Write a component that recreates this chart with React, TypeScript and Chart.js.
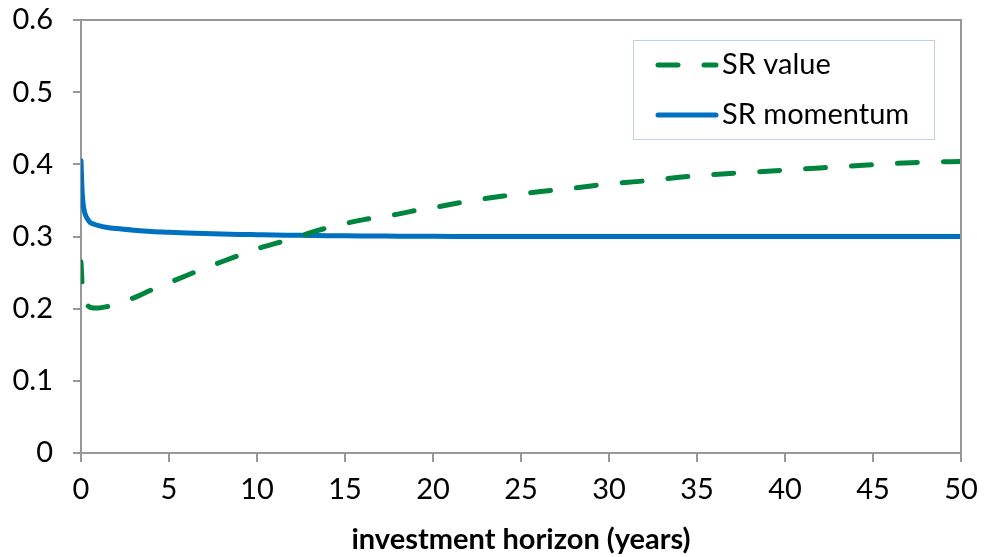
import React, { useEffect, useRef } from "react";
import { Chart, registerables } from "chart.js";

Chart.register(...registerables);

const horizonYears = [0, 0.05, 0.1, 0.2, 0.35, 0.5, 0.75, 1, 1.5, 2, 3, 4, 5, 6, 7, 8, 9, 10, 11, 12, 13, 14, 15, 16, 17, 18, 19, 20, 22, 24, 26, 28, 30, 32, 34, 36, 38, 40, 42, 44, 46, 48, 50];
const srValue = [0.265, 0.24, 0.222, 0.21, 0.205, 0.202, 0.201, 0.201, 0.203, 0.206, 0.215, 0.226, 0.236, 0.246, 0.256, 0.265, 0.274, 0.283, 0.29, 0.297, 0.305, 0.312, 0.318, 0.323, 0.327, 0.331, 0.336, 0.34, 0.349, 0.356, 0.362, 0.367, 0.373, 0.377, 0.382, 0.386, 0.389, 0.392, 0.395, 0.398, 0.401, 0.403, 0.404];
const srMomentum = [0.405, 0.37, 0.35, 0.334, 0.325, 0.32, 0.317, 0.315, 0.3125, 0.311, 0.3088, 0.307, 0.3058, 0.3048, 0.304, 0.3034, 0.3029, 0.3025, 0.3021, 0.3018, 0.3015, 0.3012, 0.301, 0.3008, 0.3006, 0.3004, 0.3003, 0.3002, 0.3001, 0.3, 0.3, 0.3, 0.3, 0.3, 0.3, 0.3, 0.3, 0.3, 0.3, 0.3, 0.3, 0.3, 0.3];
const seriesLabels = ["SR value", "SR momentum"];
const xTitle = "investment horizon (years)";

const FONT = "Lato, 'Open Sans', sans-serif";
const GREEN = "#00853F";
const BLUE = "#0070C0";
const AXIS = "#989898";
const DASH = [20, 26];
const FS = 29;

const boxPlugin = {
  id: "plotBox",
  afterDatasetsDraw(chart: any) {
    const { ctx, chartArea: a } = chart;
    ctx.save();
    ctx.strokeStyle = AXIS;
    ctx.lineWidth = 2;
    ctx.beginPath();
    ctx.moveTo(a.left, a.top);
    ctx.lineTo(a.right, a.top);
    ctx.lineTo(a.right, a.bottom);
    ctx.stroke();
    ctx.restore();
  },
};

const legendPlugin = {
  id: "innerLegend",
  afterDraw(chart: any) {
    const { ctx } = chart;
    const left = 633, top = 40, right = 934, bottom = 139;
    ctx.save();
    ctx.fillStyle = "#ffffff";
    ctx.fillRect(left, top, right - left, bottom - top);
    ctx.strokeStyle = "#7F9FD6";
    ctx.lineWidth = 1;
    ctx.setLineDash([1, 1]);
    ctx.strokeRect(left + 0.5, top + 0.5, right - left, bottom - top);
    ctx.setLineDash([]);
    const rows = [65, 115];
    chart.data.datasets.forEach((ds: any, i: number) => {
      const cy = rows[i];
      ctx.strokeStyle = ds.borderColor;
      ctx.lineWidth = ds.borderWidth;
      ctx.lineCap = "round";
      ctx.setLineDash(ds.borderDash || []);
      ctx.beginPath();
      ctx.moveTo(658, cy);
      ctx.lineTo(716, cy);
      ctx.stroke();
      ctx.setLineDash([]);
      ctx.fillStyle = "#000";
      ctx.font = `${FS}px ${FONT}`;
      ctx.textBaseline = "middle";
      ctx.textAlign = "left";
      ctx.fillText(ds.label, 722, cy);
    });
    ctx.restore();
  },
};

export default function App() {
  const ref = useRef<HTMLCanvasElement>(null);
  useEffect(() => {
    document.body.style.margin = "0";
    const chart = new Chart(ref.current!, {
      type: "line",
      data: {
        datasets: [
          {
            label: seriesLabels[0],
            data: horizonYears.map((h, i) => ({ x: h, y: srValue[i] })),
            borderColor: GREEN,
            backgroundColor: GREEN,
            borderWidth: 5,
            borderDash: DASH,
            borderCapStyle: "round",
            borderJoinStyle: "round",
            pointRadius: 0,
            cubicInterpolationMode: "monotone",
          },
          {
            label: seriesLabels[1],
            data: horizonYears.map((h, i) => ({ x: h, y: srMomentum[i] })),
            borderColor: BLUE,
            backgroundColor: BLUE,
            borderWidth: 5,
            borderCapStyle: "round",
            borderJoinStyle: "round",
            pointRadius: 0,
            cubicInterpolationMode: "monotone",
          },
        ],
      },
      options: {
        animation: false,
        responsive: false,
        layout: { padding: { left: 0, right: 23, top: 20, bottom: 0 } },
        plugins: { legend: { display: false }, tooltip: { enabled: false } },
        scales: {
          x: {
            type: "linear",
            min: 0,
            max: 50,
            ticks: { stepSize: 5, color: "#000", font: { family: FONT, size: FS }, padding: 10, maxRotation: 0 },
            grid: { display: true, drawOnChartArea: false, drawTicks: true, tickLength: 9, color: AXIS, lineWidth: 2 },
            border: { display: true, color: AXIS, width: 2 },
            title: { display: true, text: xTitle, color: "#000", font: { family: FONT, size: FS, weight: "bold" }, padding: { top: 4, bottom: 0 } },
            afterFit: (s: any) => { s.height = 104; s.paddingLeft = 0; s.paddingRight = 0; },
          },
          y: {
            type: "linear",
            min: 0,
            max: 0.6,
            ticks: { stepSize: 0.1, color: "#000", font: { family: FONT, size: FS }, padding: 20, callback: (v: any) => (Math.round(v * 10) / 10).toString() },
            grid: { display: true, drawOnChartArea: false, drawTicks: true, tickLength: 8, color: AXIS, lineWidth: 2 },
            border: { display: true, color: AXIS, width: 2 },
            afterFit: (s: any) => { s.width = 81; s.paddingTop = 0; s.paddingBottom = 0; },
          },
        },
      },
      plugins: [boxPlugin, legendPlugin],
    } as any);
    return () => chart.destroy();
  }, []);
  return (
    <div style={{ width: 984, height: 557 }}>
      <canvas ref={ref} width={984} height={557} />
    </div>
  );
}
